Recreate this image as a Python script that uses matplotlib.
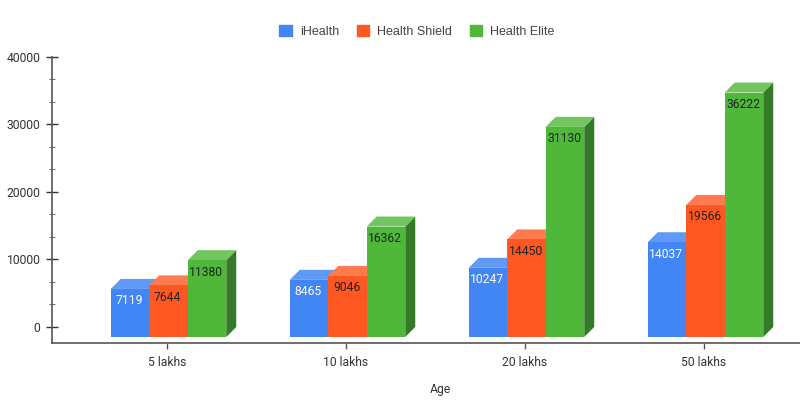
import matplotlib
matplotlib.use("Agg")
import matplotlib.pyplot as plt
import matplotlib.patches as mpatches
from matplotlib.ticker import MultipleLocator
import numpy as np

plt.rcParams["font.family"] = ["Roboto", "DejaVu Sans"]

categories = ["5 lakhs", "10 lakhs", "20 lakhs", "50 lakhs"]
ihealth = [7119, 8465, 10247, 14037]
health_shield = [7644, 9046, 14450, 19566]
health_elite = [11380, 16362, 31130, 36222]
series_names = ["iHealth", "Health Shield", "Health Elite"]

front = ["#4285F4", "#FF5722", "#4FB73A"]
top = ["#6199F7", "#FF7A4F", "#72C660"]
side = ["#2E5FB3", "#B83E18", "#357A28"]
label_colors = ["white", "#222222", "#222222"]
axis_color = "#555555"

fig = plt.figure(figsize=(8, 4.2), dpi=100)
# axes box in pixels: x 52..800, y 57..343
ax = fig.add_axes([52 / 800, 1 - 343 / 420, 748 / 800, 286 / 420])

px_per_group = 179.0
px_per_unit = 67.4 / 10000
ax.set_xlim((52 - 167) / px_per_group, (800 - 167) / px_per_group)
ax.set_ylim(-16 / px_per_unit, 40000)

bar_w = 38.5 / px_per_group
dx = 10 / px_per_group
dy = 10 / px_per_unit
shift = 1.5 / px_per_group

all_values = [ihealth, health_shield, health_elite]
for s, values in enumerate(all_values):
    for i, v in enumerate(values):
        x0 = i + shift + (s - 1.5) * bar_w
        x1 = x0 + bar_w
        base = -dy
        y1 = v - dy
        z = 2 + s
        ax.add_patch(mpatches.Polygon([(x1, base), (x1 + dx, base + dy), (x1 + dx, y1 + dy), (x1, y1)],
                                      closed=True, fc=side[s], ec="none", zorder=z))
        ax.add_patch(mpatches.Polygon([(x0, y1), (x0 + dx, y1 + dy), (x1 + dx, y1 + dy), (x1, y1)],
                                      closed=True, fc=top[s], ec="none", zorder=z))
        ax.bar(x0, v, width=bar_w, bottom=base, align="edge", color=front[s], zorder=z + 0.1)
        ax.annotate(str(v), (x0 + bar_w / 2, y1), xytext=(-0.6, -12 * 0.72), textcoords="offset points",
                    ha="center", va="center", fontsize=8.7, color=label_colors[s], zorder=10)

for name in ["top", "right"]:
    ax.spines[name].set_visible(False)
for name in ["left", "bottom"]:
    ax.spines[name].set_color(axis_color)
    ax.spines[name].set_linewidth(1.2)

ax.set_xticks(range(len(categories)))
ax.set_xticklabels(categories)
ax.yaxis.set_major_locator(MultipleLocator(10000))
ax.yaxis.set_minor_locator(MultipleLocator(10000 / 3))
ax.tick_params(axis="x", length=4, width=1, color=axis_color, labelsize=8.7, labelcolor="#333333", pad=5)
ax.tick_params(axis="y", which="major", direction="inout", length=8.5, width=1, color="#333333",
               labelsize=8.7, labelcolor="#333333", pad=4)
ax.tick_params(axis="y", which="minor", direction="inout", length=4.5, width=0.8, color="#777777")

fig.text(440 / 800, 1 - 390 / 420, "Age", ha="center", va="center", fontsize=8.7, color="#333333")

handles = [mpatches.Patch(color=c, label=n) for c, n in zip(front, series_names)]
fig.legend(handles=handles, loc="center", bbox_to_anchor=(417 / 800, 1 - 31.5 / 420), ncol=3, frameon=False,
           prop={"family": "Liberation Sans", "size": 9}, labelcolor="#444444", handlelength=1.0,
           handleheight=1.0, handletextpad=0.66, columnspacing=1.4)

fig.savefig("out.png", dpi=100)
plt.close(fig)
